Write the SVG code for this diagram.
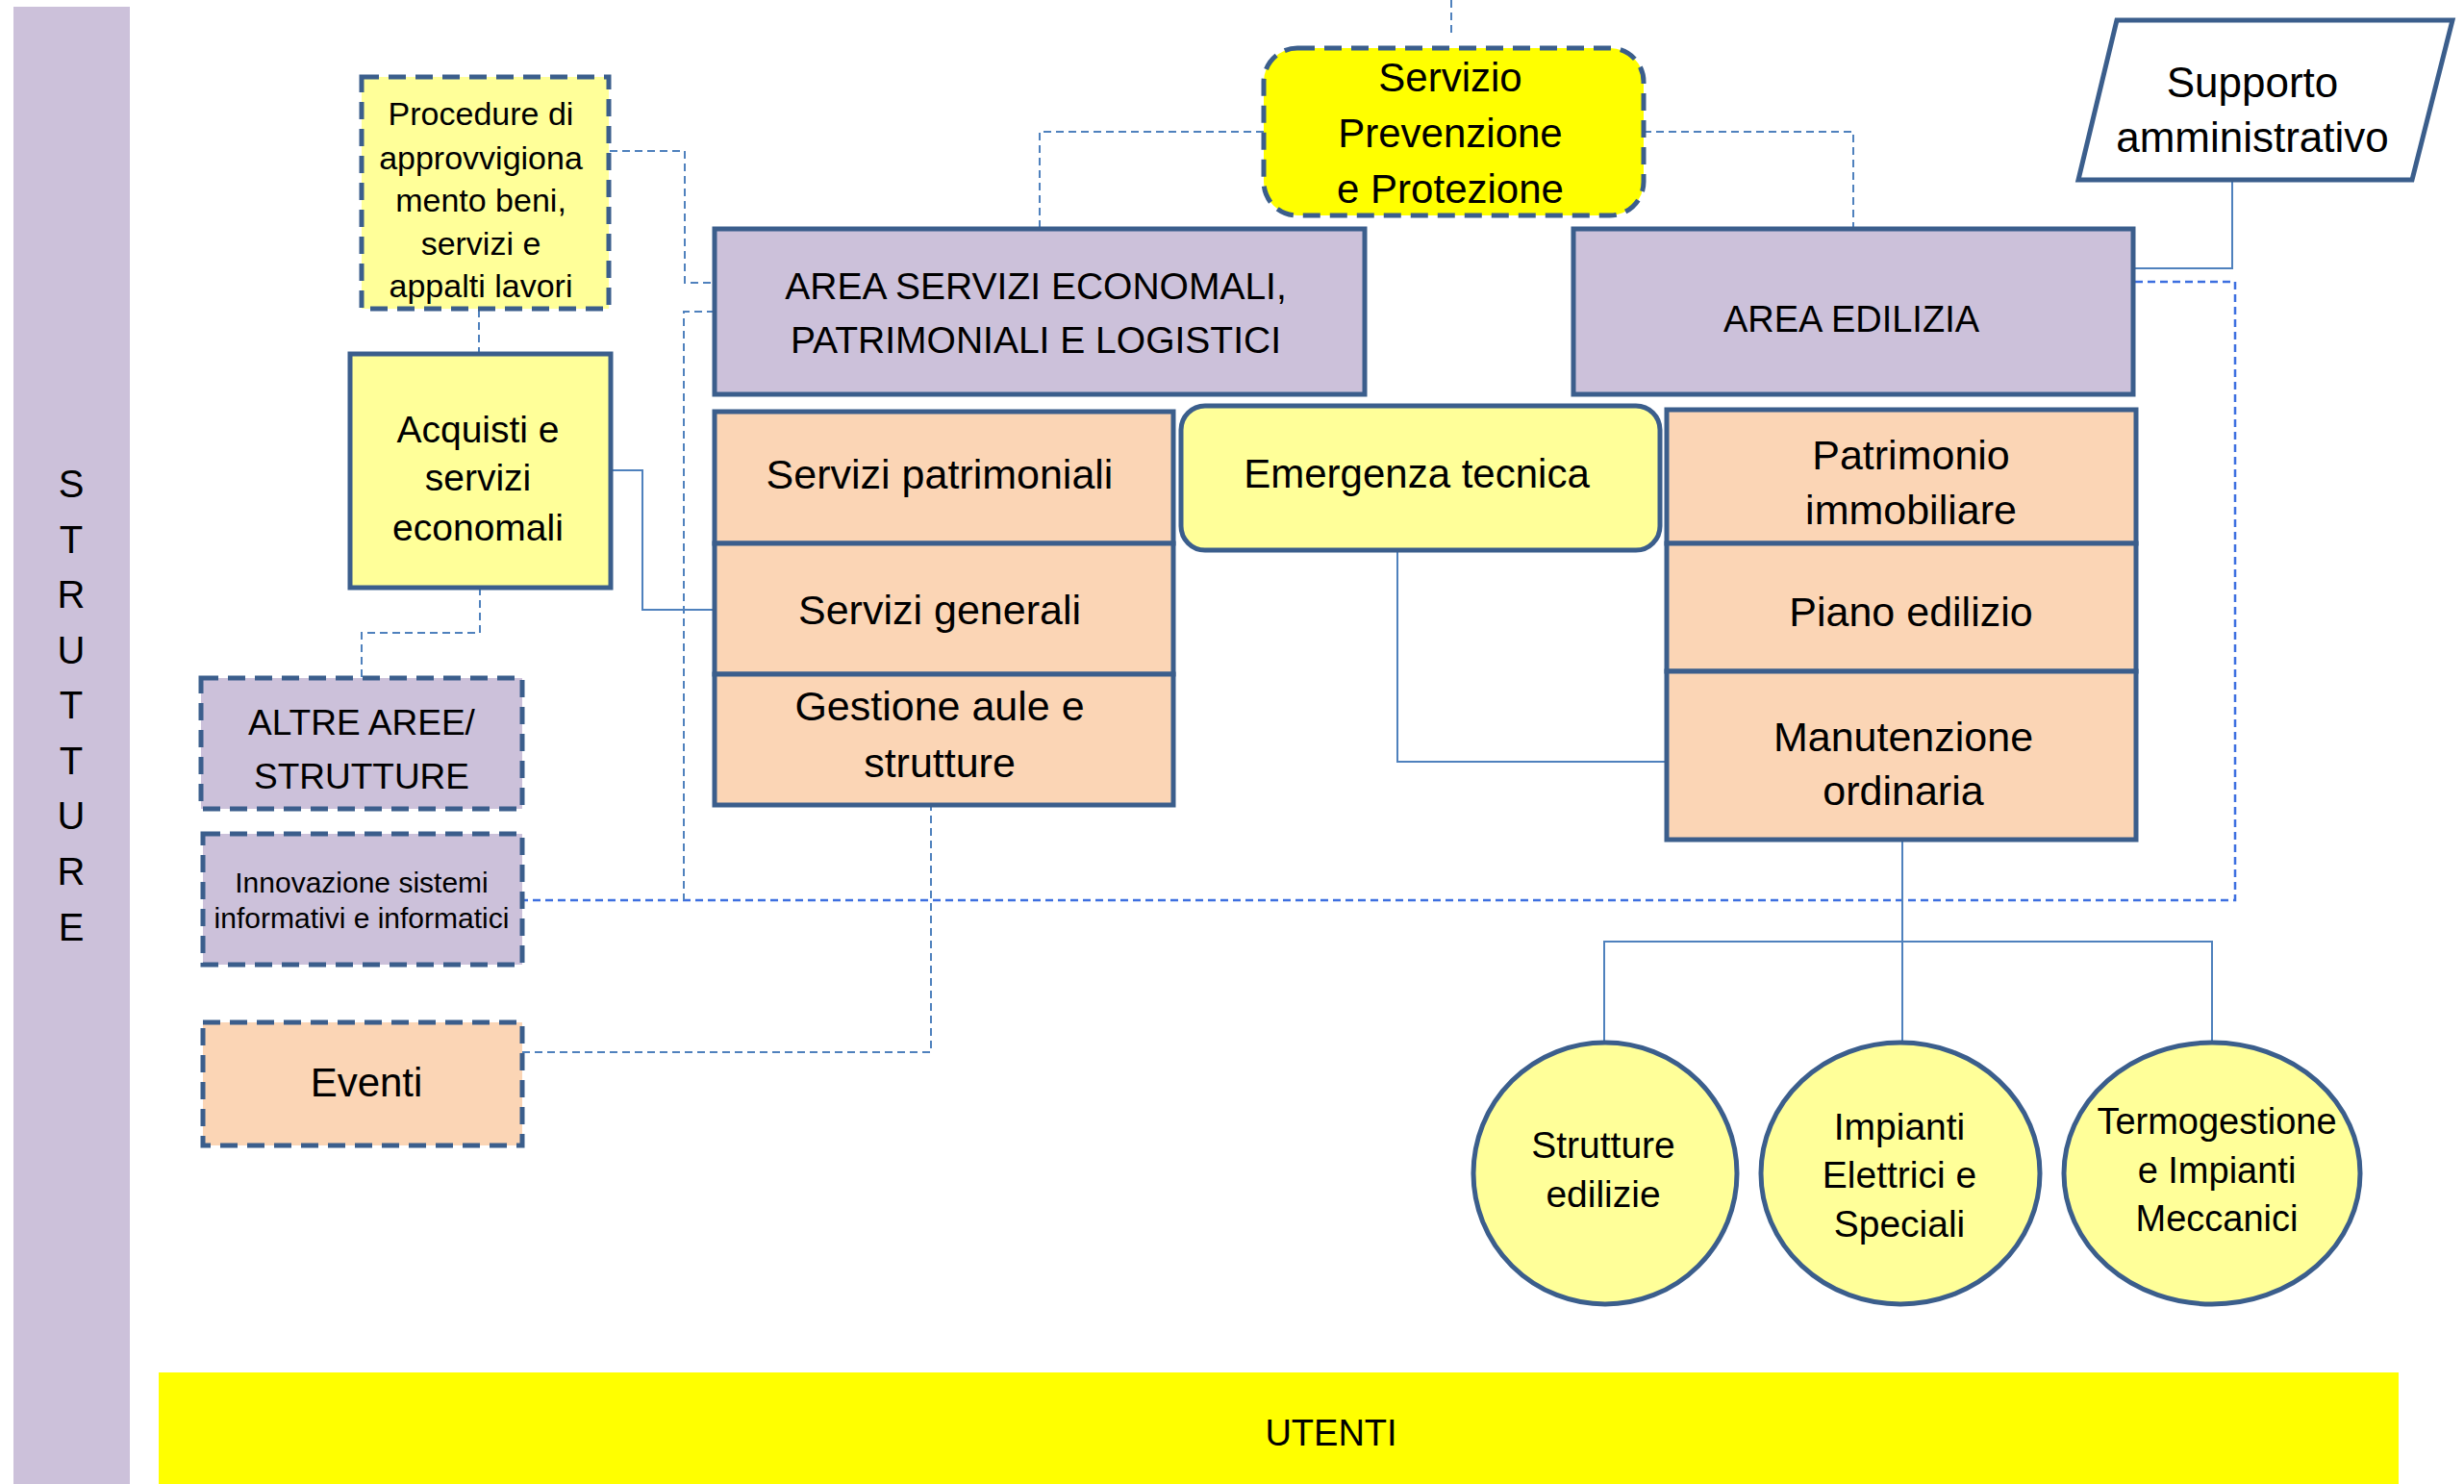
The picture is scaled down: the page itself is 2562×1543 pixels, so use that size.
<svg xmlns="http://www.w3.org/2000/svg" width="2562" height="1543" viewBox="0 0 2562 1543">
<style>
text{font-family:"Liberation Sans",Arial,sans-serif;fill:#000;text-anchor:middle;dominant-baseline:central}
.box{stroke:#3B5E8C;stroke-width:5}
.dbox{stroke:#3B5E8C;stroke-width:5;stroke-dasharray:18 10}
.lav{fill:#CCC1DA}.ly{fill:#FFFF99}.peach{fill:#FBD5B5}.yel{fill:#FFFF00}
.sl{fill:none;stroke:#4F81BD;stroke-width:2}
.dl{fill:none;stroke:#4F81BD;stroke-width:2;stroke-dasharray:8 5}
.dl2{fill:none;stroke:#3D6FE0;stroke-width:2.5;stroke-dasharray:8 5}
</style>
<rect width="2562" height="1543" fill="#fff"/>
<g id="strutture">
<rect x="14" y="7" width="121" height="1536" fill="#CCC1DA"/>
<text x="74" y="503" font-size="40">S</text>
<text x="74" y="561" font-size="40">T</text>
<text x="74" y="618" font-size="40">R</text>
<text x="74" y="676" font-size="40">U</text>
<text x="74" y="733" font-size="40">T</text>
<text x="74" y="791" font-size="40">T</text>
<text x="74" y="848" font-size="40">U</text>
<text x="74" y="906" font-size="40">R</text>
<text x="74" y="964" font-size="40">E</text>
</g>
<g id="utenti">
<rect x="165" y="1427" width="2329" height="116" fill="#FFFF00"/>
<text x="1384" y="1490" font-size="38">UTENTI</text>
</g>
<g id="connectors">
<path class="dl" d="M1509 0V35"/>
<path class="dl" d="M634 157H712V294H743"/>
<path class="dl" d="M498 322V367"/>
<path class="sl" d="M635 489H668V634H743"/>
<path class="dl" d="M499 611V658H376V705"/>
<path class="dl" d="M1314 137H1081V238"/>
<path class="dl" d="M1709 137H1927V238"/>
<path class="sl" d="M2321 187V279H2220"/>
<path class="dl2" d="M2220 293H2324V936H543"/>
<path class="dl" d="M743 324H711V936"/>
<path class="dl" d="M543 1094H968V838"/>
<path class="sl" d="M1453 572V792H1733"/>
<path class="sl" d="M1978 873V1084"/>
<path class="sl" d="M1668 1084V979H2300V1084"/>
</g>
<g id="procedure">
<rect class="dbox ly" x="376" y="80" width="257" height="241"/>
<text x="500" y="118" font-size="34">Procedure di</text>
<text x="500" y="164" font-size="34">approvvigiona</text>
<text x="500" y="208" font-size="34">mento beni,</text>
<text x="500" y="253" font-size="34">servizi e</text>
<text x="500" y="297" font-size="34">appalti lavori</text>
</g>
<g id="servizio-prevenzione">
<rect class="dbox yel" x="1314" y="50" width="395" height="174" rx="35"/>
<text x="1508" y="80" font-size="42">Servizio</text>
<text x="1508" y="138" font-size="42">Prevenzione</text>
<text x="1508" y="196" font-size="42">e Protezione</text>
</g>
<g id="supporto">
<polygon class="box" fill="#fff" points="2201,21 2550,21 2508,187 2161,187"/>
<text x="2342" y="85" font-size="44">Supporto</text>
<text x="2342" y="142" font-size="44">amministrativo</text>
</g>
<g id="acquisti">
<rect class="box ly" x="364" y="368" width="271" height="243"/>
<text x="497" y="446" font-size="39">Acquisti e</text>
<text x="497" y="496" font-size="39">servizi</text>
<text x="497" y="548" font-size="39">economali</text>
</g>
<g id="altre-aree">
<rect class="dbox lav" x="209" y="705" width="334" height="136"/>
<text x="376" y="751" font-size="37">ALTRE AREE/</text>
<text x="376" y="807" font-size="37">STRUTTURE</text>
</g>
<g id="innovazione">
<rect class="dbox lav" x="211" y="867" width="332" height="136"/>
<text x="376" y="917" font-size="30">Innovazione sistemi</text>
<text x="376" y="954" font-size="30">informativi e informatici</text>
</g>
<g id="eventi">
<rect class="dbox peach" x="211" y="1063" width="332" height="128"/>
<text x="381" y="1125" font-size="42">Eventi</text>
</g>
<g id="area-servizi">
<rect class="box lav" x="743" y="238" width="676" height="172"/>
<text x="1077" y="297" font-size="39">AREA SERVIZI ECONOMALI,</text>
<text x="1077" y="353" font-size="39">PATRIMONIALI E LOGISTICI</text>
</g>
<g id="area-edilizia">
<rect class="box lav" x="1636" y="238" width="582" height="172"/>
<text x="1925" y="332" font-size="38">AREA EDILIZIA</text>
</g>
<g id="servizi-patrimoniali">
<rect class="box peach" x="743" y="428" width="477" height="137"/>
<text x="977" y="493" font-size="43">Servizi patrimoniali</text>
</g>
<g id="servizi-generali">
<rect class="box peach" x="743" y="565" width="477" height="136"/>
<text x="977" y="634" font-size="43">Servizi generali</text>
</g>
<g id="gestione-aule">
<rect class="box peach" x="743" y="701" width="477" height="136"/>
<text x="977" y="734" font-size="43">Gestione aule e</text>
<text x="977" y="793" font-size="43">strutture</text>
</g>
<g id="emergenza">
<rect class="box ly" x="1228" y="422" width="498" height="150" rx="25"/>
<text x="1473" y="492" font-size="42">Emergenza tecnica</text>
</g>
<g id="patrimonio">
<rect class="box peach" x="1733" y="426" width="488" height="139"/>
<text x="1987" y="473" font-size="43">Patrimonio</text>
<text x="1987" y="530" font-size="43">immobiliare</text>
</g>
<g id="piano-edilizio">
<rect class="box peach" x="1733" y="565" width="488" height="133"/>
<text x="1987" y="636" font-size="43">Piano edilizio</text>
</g>
<g id="manutenzione">
<rect class="box peach" x="1733" y="698" width="488" height="175"/>
<text x="1979" y="766" font-size="43">Manutenzione</text>
<text x="1979" y="822" font-size="43">ordinaria</text>
</g>
<g id="strutture-edilizie">
<ellipse class="box ly" cx="1669" cy="1220" rx="137" ry="136"/>
<text x="1667" y="1190" font-size="39">Strutture</text>
<text x="1667" y="1241" font-size="39">edilizie</text>
</g>
<g id="impianti-elettrici">
<ellipse class="box ly" cx="1976" cy="1220" rx="145" ry="136"/>
<text x="1975" y="1171" font-size="39">Impianti</text>
<text x="1975" y="1221" font-size="39">Elettrici e</text>
<text x="1975" y="1272" font-size="39">Speciali</text>
</g>
<g id="termogestione">
<ellipse class="box ly" cx="2300" cy="1220" rx="154" ry="136"/>
<text x="2305" y="1166" font-size="38">Termogestione</text>
<text x="2305" y="1217" font-size="38">e Impianti</text>
<text x="2305" y="1267" font-size="38">Meccanici</text>
</g>
</svg>
